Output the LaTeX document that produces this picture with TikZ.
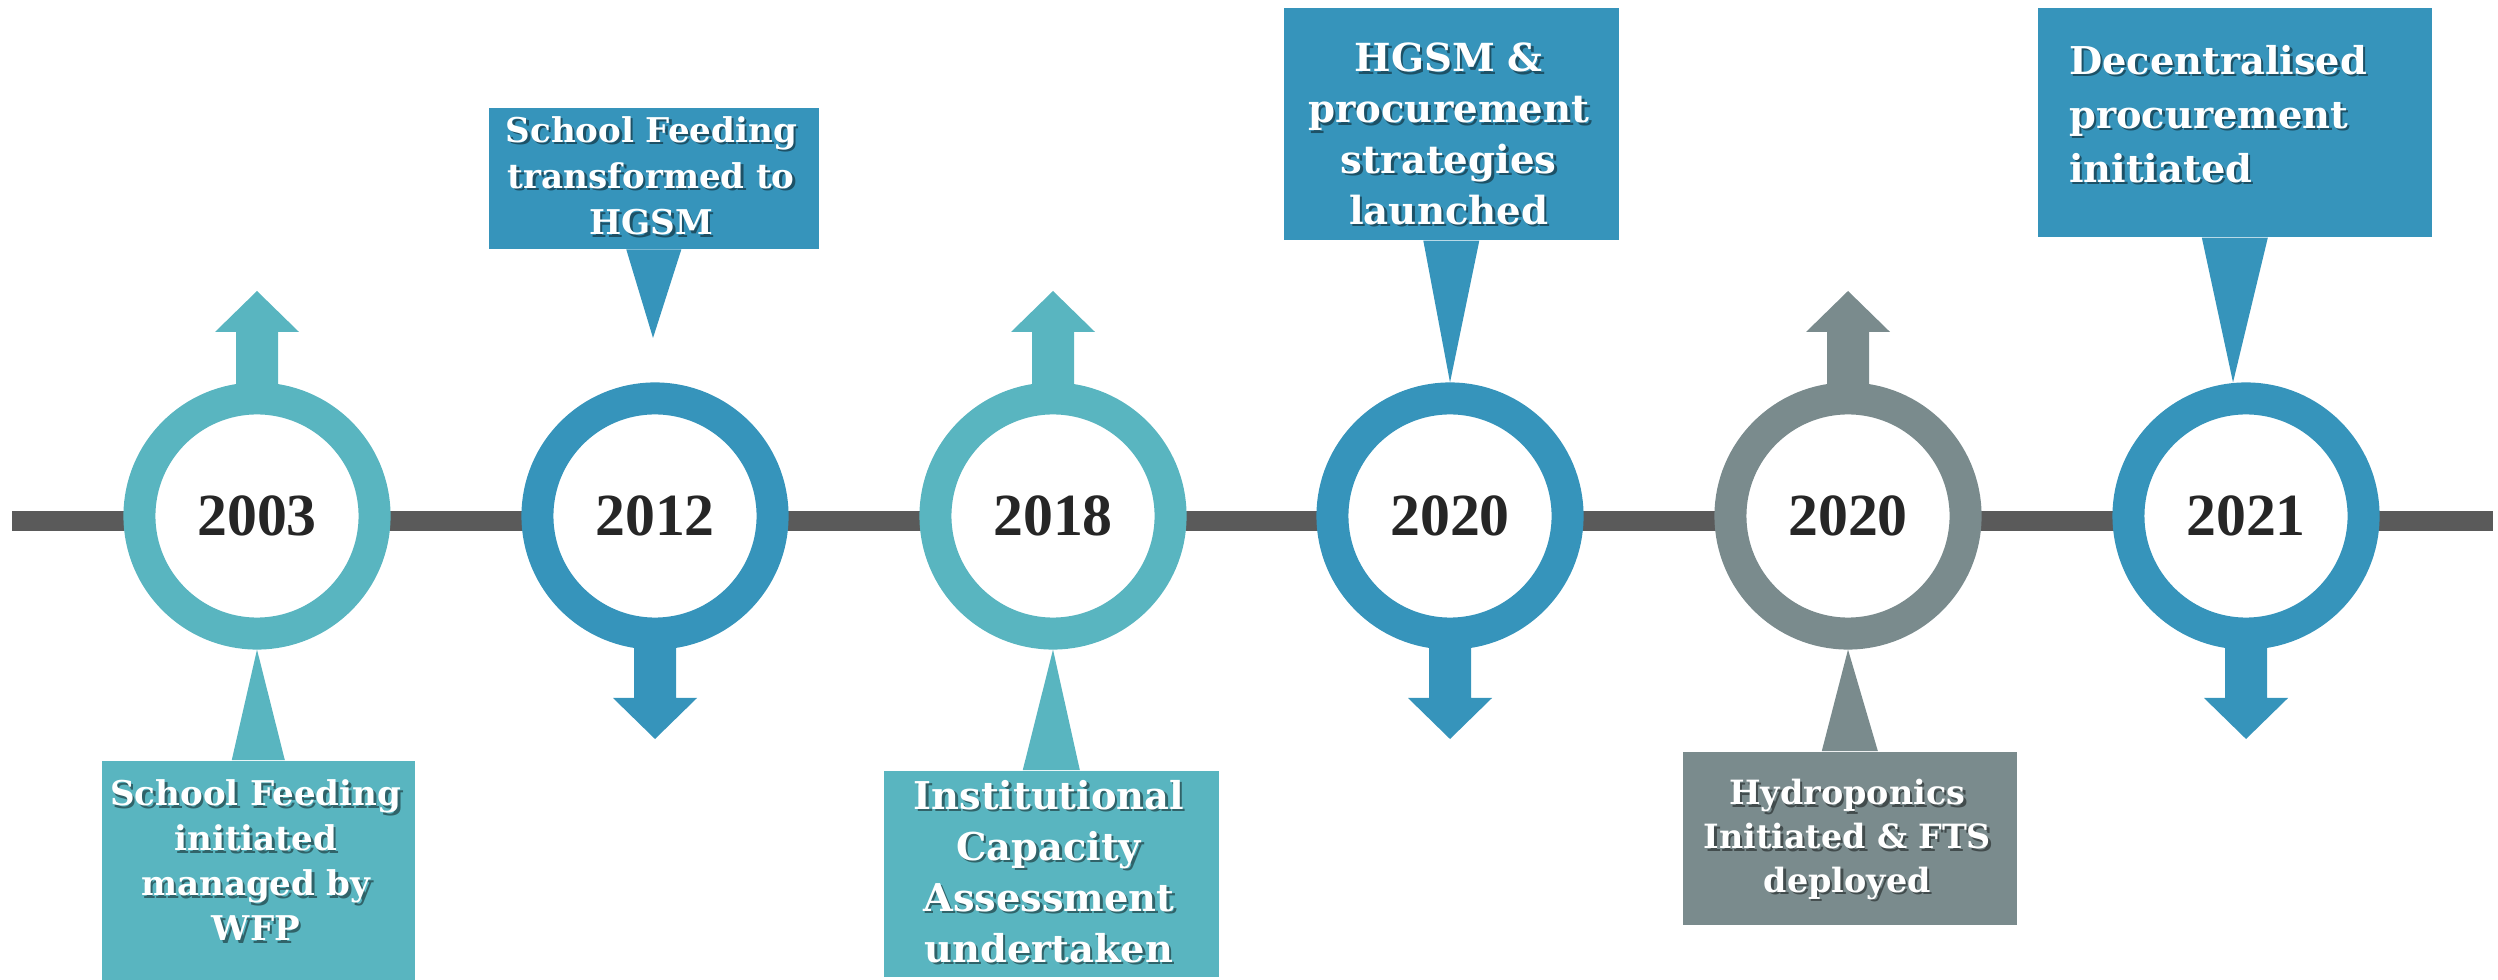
\documentclass[tikz,border=0pt]{standalone}
\usepackage{fontspec}
\setmainfont{DejaVu Serif}
\newfontfamily\yearfont{Liberation Serif}
\usepackage{tikz}
\definecolor{lightteal}{HTML}{59B5C0}
\definecolor{deepblue}{HTML}{3694BB}
\definecolor{slategrey}{HTML}{7A8B8D}
\definecolor{axisgrey}{HTML}{5A5A5A}
\definecolor{yeartext}{HTML}{262626}
% box with white text and a soft drop shadow
\newcommand{\callbox}[5]{%
  \node[callout=#3,text=black,text opacity=0.45,#4] (#1) at (#2) {#5};
  \node[callout=none,#4,text=white,anchor=center] (#1t) at ([xshift=-0.025cm,yshift=0.025cm]#1.center) {#5};}

\begin{document}
\begin{tikzpicture}[x=0.01cm,y=-0.01cm,
    year/.style={circle,draw=#1,fill=white,line width=0.32cm,minimum size=2.35cm,
      inner sep=0pt,text=yeartext,font=\fontsize{17}{20}\yearfont\bfseries},
    callout/.style={fill=#1,inner sep=0pt,align=center,anchor=north west}]
\useasboundingbox (0,0) rectangle (2498,980);
% timeline
\coordinate (start) at (12,521);
\coordinate (end) at (2493,521);
\draw[axisgrey,line width=0.2cm] (start) -- (end);
\coordinate (p1) at (257,516);
\coordinate (p2) at (655,516);
\coordinate (p3) at (1053,516);
\coordinate (p4) at (1450,516);
\coordinate (p5) at (1848,516);
\coordinate (p6) at (2246,516);
% block arrows
\fill[lightteal] (p1) ++(-21,0) -- ++(0,-184) -- ++(-21,0) -- ++(42,-41) -- ++(42,41) -- ++(-21,0) -- ++(0,184) -- cycle;
\fill[deepblue] (p2) ++(-21,0) -- ++(0,182) -- ++(-21,0) -- ++(42,41) -- ++(42,-41) -- ++(-21,0) -- ++(0,-182) -- cycle;
\fill[lightteal] (p3) ++(-21,0) -- ++(0,-184) -- ++(-21,0) -- ++(42,-41) -- ++(42,41) -- ++(-21,0) -- ++(0,184) -- cycle;
\fill[deepblue] (p4) ++(-21,0) -- ++(0,182) -- ++(-21,0) -- ++(42,41) -- ++(42,-41) -- ++(-21,0) -- ++(0,-182) -- cycle;
\fill[slategrey] (p5) ++(-21,0) -- ++(0,-184) -- ++(-21,0) -- ++(42,-41) -- ++(42,41) -- ++(-21,0) -- ++(0,184) -- cycle;
\fill[deepblue] (p6) ++(-21,0) -- ++(0,182) -- ++(-21,0) -- ++(42,41) -- ++(42,-41) -- ++(-21,0) -- ++(0,-182) -- cycle;
% years
\node[year=lightteal] (y1) at (p1) {2003};
\node[year=deepblue] (y2) at (p2) {2012};
\node[year=lightteal] (y3) at (p3) {2018};
\node[year=deepblue] (y4) at (p4) {2020};
\node[year=slategrey] (y5) at (p5) {2020};
\node[year=deepblue] (y6) at (p6) {2021};
% callouts
\callbox{b1}{101,760}{lightteal}{text width=3.13cm,minimum height=2.2cm,
  font=\fontsize{9.7}{12.8}\selectfont\bfseries}
  {School Feeding\\initiated\\managed by\\WFP\rule[-0.16cm]{0pt}{0.16cm}}
\callbox{b2}{488,107}{deepblue}{text width=3.3cm,minimum height=1.41cm,
  font=\fontsize{9.7}{13.1}\selectfont\bfseries}
  {School Feeding\\transformed to\\HGSM}
\callbox{b3}{883,770}{lightteal}{text width=3.35cm,minimum height=2.06cm,
  font=\fontsize{10.9}{14.5}\selectfont\bfseries}
  {Institutional\\Capacity\\Assessment\\undertaken}
\callbox{b4}{1283,7}{deepblue}{text width=3.35cm,minimum height=2.32cm,
  font=\fontsize{11}{14.5}\selectfont\bfseries}
  {\rule{0pt}{0.54cm}HGSM \&\\procurement\\strategies\\launched}
\callbox{b5}{1682,751}{slategrey}{text width=3.34cm,minimum height=1.73cm,
  font=\fontsize{9.5}{12.4}\selectfont\bfseries}
  {\rule{0pt}{0.33cm}Hydroponics\\Initiated \& FTS\\deployed}
\callbox{b6}{2037,7}{deepblue}{align=left,inner xsep=0.34cm,text width=3.26cm,minimum height=2.29cm,
  font=\fontsize{10.9}{15.4}\selectfont\bfseries}
  {Decentralised\\procurement\\initiated\rule[-0.12cm]{0pt}{0.12cm}}
% pointers
\coordinate (tip2) at (653,338);
\fill[lightteal] ([xshift=-0.265cm]b1.north) -- ([xshift=0.265cm]b1.north) -- (y1.south) -- cycle;
\fill[deepblue] ([xshift=-0.275cm]b2.south) -- ([xshift=0.275cm]b2.south) -- (tip2) -- cycle;
\fill[lightteal] ([xshift=-0.285cm]b3.north) -- ([xshift=0.285cm]b3.north) -- (y3.south) -- cycle;
\fill[deepblue] ([xshift=-0.28cm]b4.south) -- ([xshift=0.28cm]b4.south) -- (y4.north) -- cycle;
\fill[slategrey] ([xshift=-0.28cm]b5.north) -- ([xshift=0.28cm]b5.north) -- (y5.south) -- cycle;
\fill[deepblue] ([xshift=-0.33cm]b6.south) -- ([xshift=0.33cm]b6.south) -- ([xshift=-0.13cm]y6.north) -- cycle;
\end{tikzpicture}
\end{document}
